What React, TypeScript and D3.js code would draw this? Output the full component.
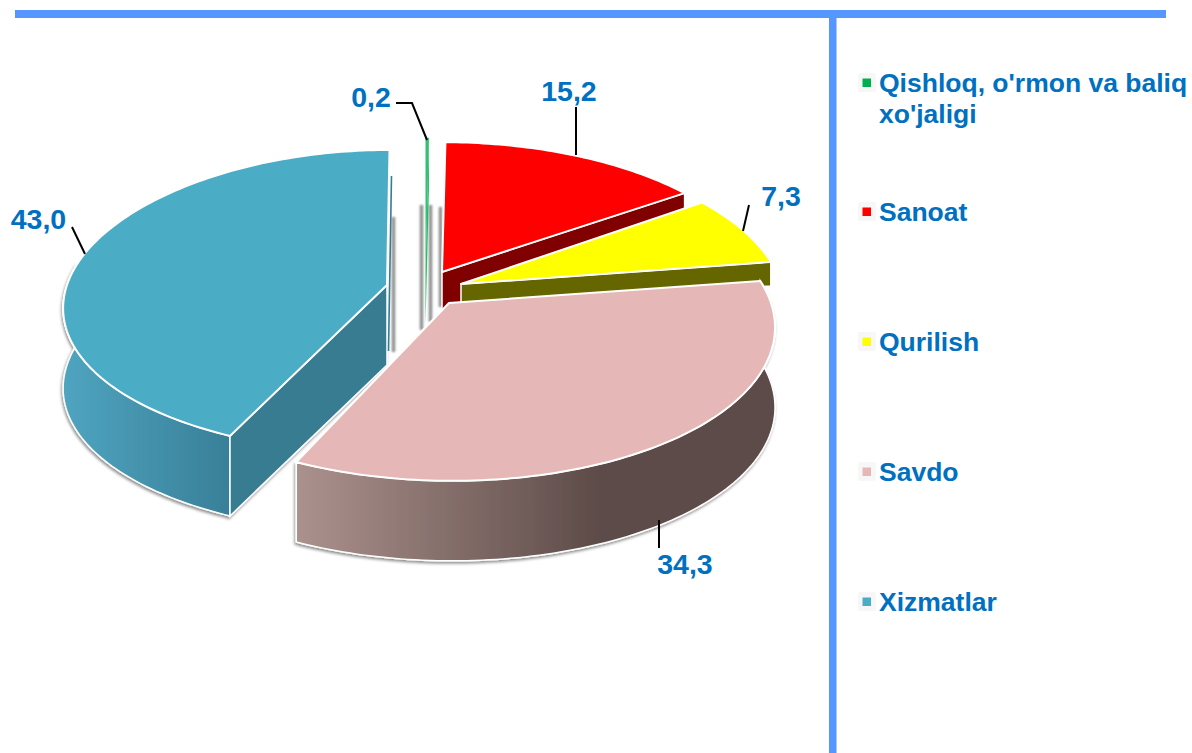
import React from "react";
import * as d3 from "d3";

const categories = ["Qishloq, o'rmon va baliq xo'jaligi", "Sanoat", "Qurilish", "Savdo", "Xizmatlar"];
const values = [0.2, 15.2, 7.3, 34.3, 43.0];
const valueLabels = ["0,2", "15,2", "7,3", "34,3", "43,0"];
const topColors = ["#00b050", "#ff0000", "#ffff00", "#e5b8b7", "#4bacc6"];
const faceColors = ["#00b050", "#800000", "#666600", "#5d4b48", "#387c91"];

const legendLines = [["Qishloq, o'rmon va baliq", "xo'jaligi"], ["Sanoat"], ["Qurilish"], ["Savdo"], ["Xizmatlar"]];
const legendY = [83, 212, 342, 472, 602];

const apexX = [425.5, 442, 461, 449, 387];
const apexY = [272, 272, 284, 303, 285];
const radiusX = [322, 322, 320, 322, 320];
const radiusY = [156, 151, 156, 156, 151.7];
const perspY = [0.14, 0.14, 0.14, 0.14, 0.11];
const skew = [0, 0, 0, -3.3, 2.5];
const faceDepth = [52, 80, 24, 80, 80];

const leaderPaths = [
  [[396, 103], [412, 103], [427, 140]],
  [[576, 107], [576, 155]],
  [[749, 205], [743, 231]],
  [[659, 520], [659, 548]],
  [[72, 227], [85, 254]],
];
const labelPos = [[371, 107], [569, 101], [781, 206], [685, 574], [38.5, 229]];
const shadowBars = [[421.5, 205, 330], [430.5, 205, 322], [440.5, 207, 307], [393.5, 217, 352]];

const KX = 0.15, DEPTH = 80;
const FONT = "'Liberation Sans', Arial, sans-serif";
const TEXT = "#0070c0";
const FRAME = "#5596ff";

const pieGen = d3.pie<number>().sort(null).value((d) => d).startAngle(0).endAngle(2 * Math.PI);
const arcs = pieGen(values);
const line = d3.line();

function project(i: number, a: number, dy = 0): [number, number] {
  const s = Math.sin(a), c = Math.cos(a);
  return [apexX[i] + radiusX[i] * s * (1 - KX * c) + skew[i] * c, apexY[i] - radiusY[i] * c * (1 - perspY[i] * c) + dy];
}
function arcPts(i: number, a0: number, a1: number, dy = 0): [number, number][] {
  const n = Math.max(2, Math.ceil(Math.abs(a1 - a0) / 0.02));
  return d3.range(n + 1).map((k) => project(i, a0 + ((a1 - a0) * k) / n, dy));
}
function topPath(i: number) {
  const p: [number, number] = [apexX[i], apexY[i]];
  return line([p, ...arcPts(i, arcs[i].startAngle, arcs[i].endAngle)]) + "Z";
}
function wallPath(i: number, a0: number, a1: number) {
  return line([...arcPts(i, a0, a1), ...arcPts(i, a1, a0, DEPTH)]) + "Z";
}
function facePath(i: number, a: number) {
  const d = faceDepth[i];
  const e = project(i, a);
  const b = project(i, a, d);
  return line([[apexX[i], apexY[i]], e, b, [apexX[i], apexY[i] + d]]) + "Z";
}

export default function App() {
  const xiz = arcs[4];
  const sav = arcs[3];
  const sliverTop = project(4, xiz.endAngle, 26);
  return (
    <svg width={1192} height={753} style={{ position: "absolute", left: 0, top: 0, display: "block", background: "#fff" }}>
      <defs>
        <linearGradient id="savWall" gradientUnits="userSpaceOnUse" x1={298} x2={600} y1={0} y2={0}>
          <stop offset="0" stopColor="#ab918d" />
          <stop offset="1" stopColor="#5d4b48" />
        </linearGradient>
        <linearGradient id="xizWall" gradientUnits="userSpaceOnUse" x1={65} x2={232} y1={0} y2={0}>
          <stop offset="0" stopColor="#4fa4bf" />
          <stop offset="1" stopColor="#387f98" />
        </linearGradient>
        <filter id="shadow" x="-10%" y="-10%" width="120%" height="120%">
          <feDropShadow dx={-1} dy={2} stdDeviation={1.5} floodColor="#000" floodOpacity={0.45} />
        </filter>
        <filter id="blur" x="-300%" y="-5%" width="700%" height="110%">
          <feGaussianBlur stdDeviation={0.8} />
        </filter>
      </defs>

      <rect x={15} y={10} width={1151} height={8} fill={FRAME} />
      <rect x={829} y={18} width={7.5} height={735} fill={FRAME} />

      {shadowBars.map(([x, y0, y1], i) => (
        <rect key={i} x={x - 1.75} y={y0} width={3.5} height={y1 - y0} fill="#7d7d7d" opacity={0.85} filter="url(#blur)" />
      ))}

      {/* Xizmatlar */}
      <g filter="url(#shadow)">
        <path d={wallPath(4, xiz.startAngle, 4.85)} fill="url(#xizWall)" stroke="#fff" strokeWidth={1.5} />
        <path d={facePath(4, xiz.startAngle)} fill={faceColors[4]} stroke="#fff" strokeWidth={1.5} />
      </g>
      <path d={line([[apexX[4] + 4.5, sliverTop[1]], [apexX[4] + 1.5, apexY[4] + DEPTH - 14]]) as string} stroke={faceColors[4]} strokeWidth={1.6} fill="none" />
      <path d={topPath(4)} fill={topColors[4]} stroke="#fff" strokeWidth={2} strokeLinejoin="round" />

      {/* Qishloq */}
      <path d={facePath(0, arcs[0].endAngle)} fill={topColors[0]} opacity={0.85} />
      <path d={topPath(0)} fill={topColors[0]} opacity={0.8} />

      {/* Sanoat */}
      <path d={facePath(1, arcs[1].endAngle)} fill={faceColors[1]} stroke="#fff" strokeWidth={1.5} />
      <path d={topPath(1)} fill={topColors[1]} stroke="#fff" strokeWidth={2} strokeLinejoin="round" />

      {/* Qurilish */}
      <path d={facePath(2, arcs[2].endAngle)} fill={faceColors[2]} stroke="#fff" strokeWidth={1.5} />
      <path d={topPath(2)} fill={topColors[2]} stroke="#fff" strokeWidth={2} strokeLinejoin="round" />

      {/* Savdo */}
      <path d={wallPath(3, sav.startAngle, sav.endAngle)} fill="url(#savWall)" stroke="#fff" strokeWidth={1.5} filter="url(#shadow)" />
      <path d={topPath(3)} fill={topColors[3]} stroke="#fff" strokeWidth={2} strokeLinejoin="round" />

      {leaderPaths.map((p, i) => (
        <path key={i} d={line(p as [number, number][]) as string} fill="none" stroke="#000" strokeWidth={2} />
      ))}
      {valueLabels.map((t, i) => (
        <text key={i} x={labelPos[i][0]} y={labelPos[i][1]} textAnchor="middle" fontFamily={FONT} fontWeight={700} fontSize={28.5} fill={TEXT}>{t}</text>
      ))}

      {categories.map((c, i) => (
        <g key={c}>
          <rect x={858} y={legendY[i] - 10} width={18} height={19} fill="#f7f7f7" rx={2} />
          <rect x={862.5} y={legendY[i] - 4.5} width={8.5} height={8.5} fill={topColors[i]} />
          {legendLines[i].map((t, j) => (
            <text key={j} x={879} y={legendY[i] + 9 + j * 30.5} fontFamily={FONT} fontWeight={700} fontSize={26.5} fill={TEXT}>{t}</text>
          ))}
        </g>
      ))}
    </svg>
  );
}
